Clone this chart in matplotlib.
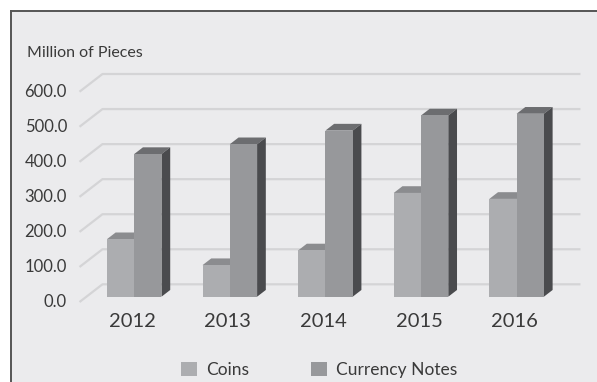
import matplotlib
matplotlib.use("Agg")
import matplotlib.pyplot as plt
from matplotlib.patches import Polygon, Rectangle, Patch
from matplotlib.lines import Line2D

years = ["2012", "2013", "2014", "2015", "2016"]
coins = [164, 90, 132, 296, 279]
notes = [407, 435, 474, 517, 522]
series_names = ["Coins", "Currency Notes"]
yticks = [0, 100, 200, 300, 400, 500, 600]

BG = "#EBEBED"
GRID = "#D4D4D6"
TXT = "#3A3A3A"
# front / top / side shades for each series
SHADES = {
    "Coins": ("#ACADB0", "#8B8C8F", "#5E5F62"),
    "Currency Notes": ("#97989B", "#6C6D70", "#4A4B4E"),
}

plt.rcParams["font.family"] = ["Lato", "DejaVu Sans"]

fig = plt.figure(figsize=(5.97, 3.82), dpi=100)
fig.patch.set_facecolor("white")

# panel background with a dark rule on the left and top
W, H = 597.0, 382.0
fig.add_artist(Rectangle((10 / W, 0), 1, 1 - 10 / H, transform=fig.transFigure,
                         facecolor=BG, edgecolor="none", zorder=0))
fig.add_artist(Line2D([10.5 / W, 10.5 / W], [0, 1 - 10.5 / H], transform=fig.transFigure,
                      color="#555555", lw=1.4, zorder=1))
fig.add_artist(Line2D([10.5 / W, 1], [1 - 10.5 / H, 1 - 10.5 / H], transform=fig.transFigure,
                      color="#555555", lw=1.4, zorder=1))

ax = fig.add_axes([20 / W, 37 / H, 577 / W, 305 / H])
ax.set_xlim(-1.1946, 4.841)
ax.set_ylim(-137.8, 732.4)
ax.axis("off")

# oblique projection: full floor depth shifts x by DX and value by DV
DX, DV = 0.24, 50.5
BAR_FRONT, BAR_BACK = 0.30, 0.68
BAR_W = 0.2855


def proj(x, v, d):
    return (x + DX * (d - BAR_FRONT), v + DV * (d - BAR_FRONT))


# wall gridlines: diagonal on the side wall, horizontal along the back wall
x_left, x_right = -0.5, len(years) - 0.5
for t in yticks:
    p0 = proj(x_left, t, 0.0)
    p1 = proj(x_left, t, 1.0)
    p2 = proj(x_right, t, 1.0)
    ax.plot([p0[0], p1[0], p2[0]], [p0[1], p1[1], p2[1]], color=GRID, lw=1.6,
            zorder=1, solid_capstyle="butt")
    ax.text(-0.703, p0[1], f"{t:.1f}", ha="right", va="center", fontsize=12,
            color=TXT)

depth = BAR_BACK - BAR_FRONT
for i in range(len(years)):
    for k, (name, vals) in enumerate(zip(series_names, [coins, notes])):
        front, top, side = SHADES[name]
        x0 = i - BAR_W + k * BAR_W
        x1 = x0 + BAR_W
        v = vals[i]
        z = 2 + k
        ax.bar(x0, v, width=BAR_W, align="edge", color=front, zorder=z + 0.1)
        ax.add_patch(Polygon([(x0, v), (x1, v), (x1 + DX * depth, v + DV * depth),
                              (x0 + DX * depth, v + DV * depth)],
                             closed=True, facecolor=top, edgecolor="none", zorder=z))
        ax.add_patch(Polygon([(x1, 0), (x1 + DX * depth, DV * depth),
                              (x1 + DX * depth, v + DV * depth), (x1, v)],
                             closed=True, facecolor=side, edgecolor="none", zorder=z))
    ax.text(i - 0.02, -71.3, years[i], ha="center", va="center", fontsize=14.5,
            color=TXT)

fig.text(26.7 / W, 1 - 53.3 / H, "Million of Pieces", ha="left", va="center",
         fontsize=11.5, color=TXT)

handles = [Patch(facecolor=SHADES[n][0], edgecolor="none") for n in series_names]
fs_px = 12.5 * 100 / 72
fig.legend(handles, series_names, loc="center", bbox_to_anchor=(319 / W, 1 - 369.7 / H),
           ncol=2, frameon=False, fontsize=12.5, labelcolor=TXT,
           handlelength=15.7 / fs_px, handleheight=15.7 / fs_px,
           handletextpad=9 / fs_px, columnspacing=62 / fs_px, borderpad=0)

fig.savefig("out.png", dpi=100)
